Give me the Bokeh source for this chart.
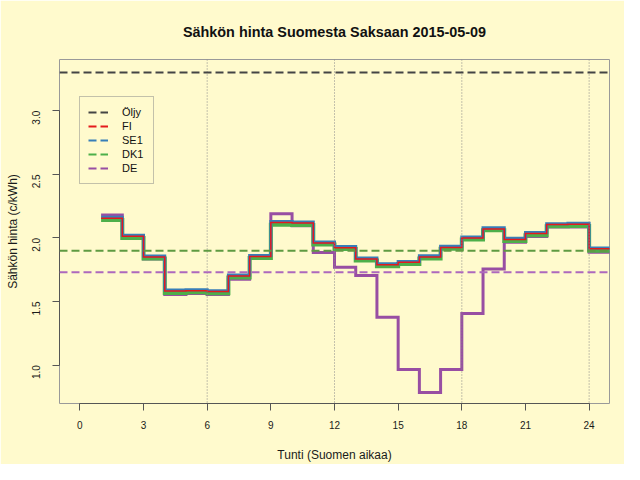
import math
from bokeh.plotting import figure
from bokeh.models import (Range1d, Span, Legend, LegendItem, FixedTicker,
                          PrintfTickFormatter)
from bokeh.embed import file_html
from bokeh.resources import INLINE

# ---- data ----
hours = list(range(1, 25))
fi = [2.154, 2.013, 1.850, 1.582, 1.585, 1.578, 1.700, 1.854, 2.122, 2.118,
      1.961, 1.923, 1.835, 1.789, 1.808, 1.850, 1.925, 2.000, 2.071, 1.987,
      2.035, 2.105, 2.107, 1.914]
se1 = [2.163, 2.021, 1.857, 1.590, 1.592, 1.585, 1.708, 1.862, 2.130, 2.126,
       1.968, 1.932, 1.843, 1.797, 1.815, 1.859, 1.934, 2.007, 2.080, 1.997,
       2.042, 2.112, 2.115, 1.921]
dk1 = [2.141, 2.000, 1.838, 1.567, 1.572, 1.565, 1.688, 1.842, 2.104, 2.102,
       1.948, 1.912, 1.823, 1.777, 1.795, 1.838, 1.914, 1.988, 2.060, 1.976,
       2.021, 2.092, 2.094, 1.900]
de = [2.180, 1.995, 1.835, 1.556, 1.562, 1.556, 1.675, 1.840, 2.190, 2.095,
      1.886, 1.770, 1.705, 1.376, 0.966, 0.784, 0.966, 1.405, 1.756, 1.966,
      2.012, 2.085, 2.085, 1.888]
oil_price = 3.30
dk1_level = 1.90
de_level = 1.73
x_ticks = [0, 3, 6, 9, 12, 15, 18, 21, 24]
y_ticks = [1.0, 1.5, 2.0, 2.5, 3.0]
guide_hours = [6, 12, 18, 24]
legend_names = ["Öljy", "FI", "SE1", "DK1", "DE"]
title_text = "Sähkön hinta Suomesta Saksaan 2015-05-09"

BG = "#FFFACD"
FONT = "Liberation Sans"
C_OIL = "#444444"
C_FI = "#E41A1C"
C_SE = "#377EB8"
C_DK = "#4DAF4A"
C_DE = "#984EA3"

p = figure(width=624, height=464, output_backend="svg", toolbar_location=None,
           x_range=Range1d(-0.96, 24.96), y_range=Range1d(0.698, 3.403),
           min_border_left=59, min_border_right=15, min_border_top=59,
           min_border_bottom=58, background_fill_color=BG,
           border_fill_color=BG, title=title_text)

p.title.align = "center"
p.title.vertical_align = "top"
p.title.text_font = FONT
p.title.text_font_size = "14.4px"
p.title.text_font_style = "bold"
p.title.text_color = "#111111"
p.title.standoff = 36

p.xgrid.visible = False
p.ygrid.visible = False
p.outline_line_color = "#999999"
p.outline_line_width = 1

for ax in (p.xaxis[0], p.yaxis[0]):
    ax.axis_line_color = "#555555"
    ax.major_tick_line_color = "#555555"
    ax.minor_tick_line_color = None
    ax.major_tick_out = 7
    ax.major_tick_in = 0
    ax.major_label_text_font = FONT
    ax.major_label_text_font_size = "10px"
    ax.major_label_text_color = "#1a1a1a"
    ax.axis_label_text_font = FONT
    ax.axis_label_text_font_size = "12px"
    ax.axis_label_text_font_style = "normal"
    ax.axis_label_text_color = "#1a1a1a"

p.xaxis.ticker = FixedTicker(ticks=x_ticks)
p.xaxis.bounds = (x_ticks[0], x_ticks[-1])
p.xaxis.axis_label = "Tunti (Suomen aikaa)"
p.xaxis.major_label_standoff = 10
p.xaxis.axis_label_standoff = 16

p.yaxis.ticker = FixedTicker(ticks=y_ticks)
p.yaxis.bounds = (y_ticks[0], y_ticks[-1])
p.yaxis.formatter = PrintfTickFormatter(format="%.1f")
p.yaxis.major_label_orientation = math.pi / 2
p.yaxis.axis_label = "Sähkön hinta (c/kWh)"
p.yaxis.major_label_standoff = 16
p.yaxis.axis_label_standoff = 6

for h in guide_hours:
    p.add_layout(Span(location=h, dimension="height", line_color="#888888",
                      line_width=1, line_dash="1 2"))

DASH = "8 4"
p.add_layout(Span(location=oil_price, dimension="width", line_color=C_OIL,
                  line_width=2, line_dash=DASH))
p.add_layout(Span(location=dk1_level, dimension="width", line_color="#5f9a42",
                  line_width=2, line_dash=DASH))
p.add_layout(Span(location=de_level, dimension="width", line_color="#ad68bd",
                  line_width=2, line_dash=DASH))

xs = hours + [hours[-1] + 1]
def ext(v):
    return v + [v[-1]]

p.step(xs, ext(de), mode="after", line_color=C_DE, line_width=3, line_join="miter")
p.step(xs, ext(dk1), mode="after", line_color=C_DK, line_width=4, line_join="miter")
p.step(xs, ext(se1), mode="after", line_color=C_SE, line_width=3, line_join="miter")
p.step(xs, ext(fi), mode="after", line_color=C_FI, line_width=1.5, line_join="miter")

# legend samples: one-point dashed lines (draw nothing in the plot itself)
first_vals = [oil_price, fi[0], se1[0], dk1[0], de[0]]
cols = [C_OIL, C_FI, C_SE, C_DK, C_DE]
items = []
for n, c, v in zip(legend_names, cols, first_vals):
    r = p.line([hours[0]], [v], line_color=c, line_width=2, line_dash=DASH)
    items.append(LegendItem(label=n, renderers=[r]))

leg = Legend(items=items, location=(20, 219), background_fill_color=BG,
             background_fill_alpha=1.0, border_line_color="#888888",
             border_line_width=1, label_text_font=FONT,
             label_text_font_size="11px", label_text_color="#111111",
             glyph_width=20, glyph_height=14, label_height=14, spacing=0,
             padding=8, margin=0, label_standoff=14, label_width=23)
p.add_layout(leg)

open("out.html", "w").write(file_html(p, INLINE))
